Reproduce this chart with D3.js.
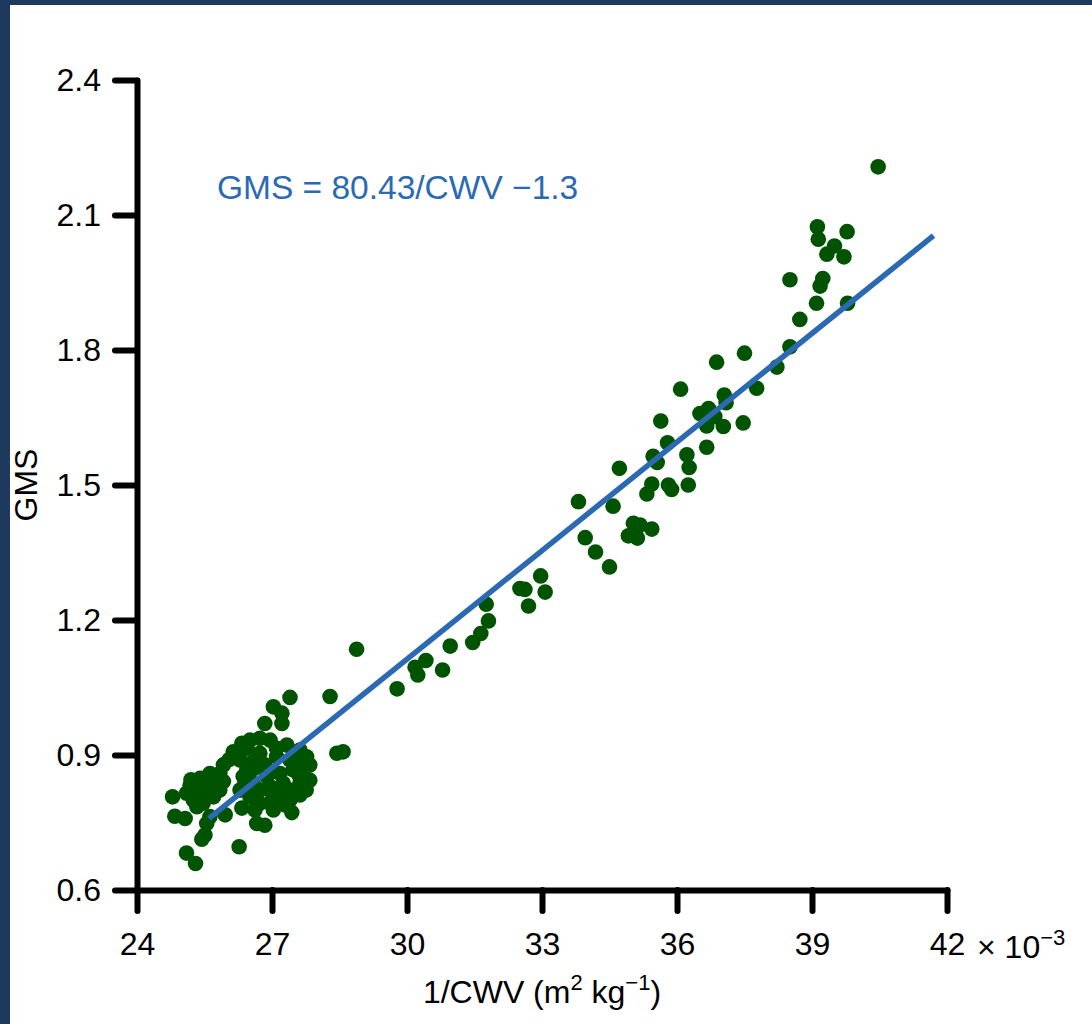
<!DOCTYPE html>
<html>
<head>
<meta charset="utf-8">
<script src="https://cdn.jsdelivr.net/npm/d3@7"></script>
<style>
  body { margin: 0; background: #1d3a5e; }
  svg { display: block; }
  .axis text { font-family: "Liberation Sans", Arial, Helvetica, sans-serif; font-size: 32px; fill: #000; }
  .axis path, .axis line { stroke: #000; stroke-width: 6; stroke-linecap: round; }
</style>
</head>
<body>
<svg id="chart"></svg>
<script>
// 1/CWV (x 10^-3 m2 kg-1) and GMS
var cwvInv = [
  40.47, 39.12, 39.78, 39.14, 39.50, 39.33, 39.71, 38.51, 39.24, 39.18,
  39.10, 39.79, 38.73, 38.51, 38.22, 37.50, 36.88, 36.08, 37.77, 37.05,
  37.09, 36.51, 36.70, 36.84, 36.66, 37.03, 37.47, 35.64, 35.79, 36.66,
  35.47, 35.56, 36.22, 36.27, 34.72, 35.44, 35.33, 35.81, 35.88, 36.25,
  33.81, 34.58, 35.03, 35.18, 35.44, 34.92, 35.12, 35.07, 33.96, 34.19,
  34.50, 32.97, 32.51, 32.62, 33.07, 32.70, 31.76, 31.81, 31.64, 31.46,
  30.96, 28.88, 30.42, 30.18, 30.24, 30.79, 29.78, 28.29, 28.44, 28.58,
  27.40, 27.03, 27.22, 26.84, 27.22, 26.33, 26.51, 26.73, 26.96, 27.33,
  27.62, 27.77, 27.84, 26.14, 26.29, 26.73, 27.10, 26.58, 26.36, 26.58,
  26.88, 27.18, 27.47, 27.70, 27.62, 27.40, 27.18, 26.96, 26.73, 26.51,
  26.29, 26.73, 26.96, 27.25, 27.03, 25.92, 25.84, 25.62, 25.40, 25.18,
  25.10, 25.25, 25.47, 25.70, 25.84, 25.47, 25.70, 25.92, 25.33, 24.79,
  24.84, 25.07, 25.62, 25.96, 26.33, 27.44, 25.55, 26.66, 26.84, 25.51,
  25.44, 26.27, 25.10, 25.30, 27.76, 27.84, 26.84, 27.40, 27.00, 26.60,
  25.29, 25.58, 26.44, 27.40, 27.62, 26.62, 27.29, 26.95, 26.20, 27.55,
  25.20, 25.78, 26.45, 27.10, 26.40, 27.60, 25.36, 26.05
];
var gms = [
  2.207, 2.074, 2.063, 2.046, 2.031, 2.013, 2.007, 1.956, 1.959, 1.942,
  1.904, 1.904, 1.868, 1.807, 1.762, 1.793, 1.773, 1.713, 1.715, 1.700,
  1.683, 1.659, 1.670, 1.652, 1.631, 1.630, 1.638, 1.642, 1.594, 1.584,
  1.564, 1.550, 1.567, 1.539, 1.537, 1.502, 1.480, 1.500, 1.490, 1.500,
  1.463, 1.453, 1.415, 1.411, 1.402, 1.387, 1.382, 1.396, 1.383, 1.351,
  1.318, 1.298, 1.270, 1.268, 1.262, 1.231, 1.235, 1.198, 1.170, 1.150,
  1.142, 1.135, 1.110, 1.095, 1.078, 1.089, 1.047, 1.030, 0.904, 0.907,
  1.028, 1.007, 0.993, 0.970, 0.970, 0.926, 0.933, 0.937, 0.933, 0.922,
  0.911, 0.896, 0.878, 0.907, 0.889, 0.904, 0.896, 0.885, 0.852, 0.837,
  0.852, 0.859, 0.867, 0.859, 0.837, 0.822, 0.807, 0.793, 0.793, 0.807,
  0.822, 0.822, 0.830, 0.837, 0.778, 0.878, 0.859, 0.859, 0.848, 0.833,
  0.815, 0.800, 0.793, 0.807, 0.822, 0.822, 0.837, 0.841, 0.785, 0.807,
  0.764, 0.759, 0.763, 0.767, 0.782, 0.772, 0.748, 0.748, 0.744, 0.722,
  0.713, 0.696, 0.682, 0.659, 0.822, 0.844, 0.878, 0.889, 0.815, 0.870,
  0.822, 0.822, 0.867, 0.800, 0.811, 0.778, 0.789, 0.860, 0.900, 0.880,
  0.845, 0.850, 0.915, 0.915, 0.840, 0.855, 0.830, 0.890
];

// fitted line GMS = 80.43/CWV - 1.3, end points
var fitX = [25.6, 41.7];
var fitY = [0.759, 2.054];

var xTicks = [24, 27, 30, 33, 36, 39, 42];
var yTicks = [0.6, 0.9, 1.2, 1.5, 1.8, 2.1, 2.4];

var width = 1092, height = 1024;
var margin = { top: 80, right: 145, bottom: 134, left: 137 };

var svg = d3.select("#chart")
  .attr("width", width)
  .attr("height", height);

svg.append("rect")
  .attr("x", 10).attr("y", 5)
  .attr("width", width - 10).attr("height", height - 5)
  .attr("fill", "#fff");

var xScale = d3.scaleLinear()
  .domain([24, 42])
  .range([margin.left, width - margin.right]);

var yScale = d3.scaleLinear()
  .domain([0.6, 2.4])
  .range([height - margin.bottom, margin.top]);

var xAxis = d3.axisBottom(xScale)
  .tickValues(xTicks)
  .tickSizeInner(21)
  .tickSizeOuter(0)
  .tickPadding(21)
  .tickFormat(d3.format("d"));

var yAxis = d3.axisLeft(yScale)
  .tickValues(yTicks)
  .tickSizeInner(22)
  .tickSizeOuter(0)
  .tickPadding(14)
  .tickFormat(d3.format(".1f"));

svg.append("g")
  .attr("class", "axis")
  .attr("transform", `translate(0, ${height - margin.bottom})`)
  .call(xAxis);

svg.append("g")
  .attr("class", "axis")
  .attr("transform", `translate(${margin.left}, 0)`)
  .call(yAxis);

svg.selectAll(".axis").attr("font-family", null).attr("font-size", null);

// points
var pts = cwvInv.map((d, i) => ({ x: d, y: gms[i] }));

svg.append("g")
  .selectAll("circle")
  .data(pts)
  .enter().append("circle")
  .attr("cx", d => xScale(d.x))
  .attr("cy", d => yScale(d.y))
  .attr("r", 7.8)
  .attr("fill", "#005300");

// fit line
var line = d3.line()
  .x(d => xScale(d[0]))
  .y(d => yScale(d[1]));

svg.append("path")
  .datum(fitX.map((d, i) => [d, fitY[i]]))
  .attr("d", line)
  .attr("fill", "none")
  .attr("stroke", "#2b6ab3")
  .attr("stroke-width", 5.5);

var font = "'Liberation Sans', Arial, Helvetica, sans-serif";

svg.append("text")
  .attr("x", 217)
  .attr("y", 199)
  .style("font-family", font)
  .style("font-size", "33.5px")
  .style("fill", "#2b6ab3")
  .text("GMS = 80.43/CWV \u22121.3");

// y label
svg.append("text")
  .attr("transform", "translate(37, 485) rotate(-90)")
  .style("font-family", font)
  .style("font-size", "32px")
  .style("text-anchor", "middle")
  .text("GMS");

// x label
var xl = svg.append("text")
  .attr("x", 542)
  .attr("y", 1003)
  .style("font-family", font)
  .style("font-size", "32px")
  .style("text-anchor", "middle");
xl.append("tspan").text("1/CWV (m");
xl.append("tspan").attr("dy", -13).style("font-size", "22px").text("2");
xl.append("tspan").attr("dy", 13).text(" kg");
xl.append("tspan").attr("dy", -13).style("font-size", "22px").text("\u22121");
xl.append("tspan").attr("dy", 13).text(")");

// exponent
var ex = svg.append("text")
  .attr("x", 977)
  .attr("y", 958)
  .style("font-family", font)
  .style("font-size", "32px");
ex.append("tspan").text("\u00d7 10");
ex.append("tspan").attr("dy", -13).style("font-size", "22px").text("\u22123");
</script>
</body>
</html>
